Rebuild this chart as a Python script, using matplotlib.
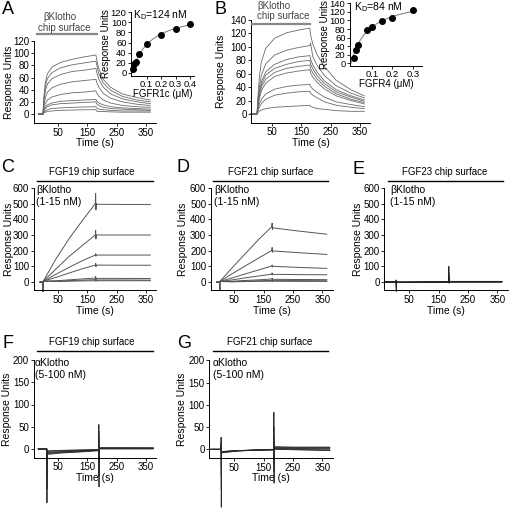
import numpy as np
import matplotlib
matplotlib.use("Agg")
import matplotlib.pyplot as plt
import matplotlib.transforms as mtrans
from matplotlib.lines import Line2D

plt.rcParams["font.family"] = ["Liberation Sans", "DejaVu Sans"]
plt.rcParams["mathtext.default"] = "regular"
plt.rcParams["font.size"] = 7
plt.rcParams["axes.linewidth"] = 0.7

W, H = 512, 513

# ---------------- data ----------------
# A: FGFR1c over beta-Klotho surface
T_A = [-15, 0, 3, 8, 15, 30, 60, 100, 140, 180, 182, 190, 205, 230, 270, 320, 365]
RU_A = [
    [0, 0, 28, 52, 66, 77, 85, 90, 94, 97, 91, 74, 57, 44, 33, 27, 23],
    [0, 0, 24, 45, 58, 68, 76, 81, 84, 87, 82, 66, 51, 39, 29, 23, 20],
    [0, 0, 20, 38, 49, 58, 65, 70, 72, 75, 70, 57, 44, 33, 25, 20, 17],
    [0, 0, 14, 27, 36, 43, 49, 53, 55, 57, 53, 44, 34, 26, 20, 16, 14],
    [0, 0, 9, 17, 23, 28, 32, 35, 36, 38, 35, 29, 23, 18, 14, 12, 11],
    [0, 0, 6, 11, 15, 18, 21, 22, 23, 24, 22, 18, 15, 12, 10, 9, 8],
    [0, 0, 5, 9, 12, 15, 17, 18, 19, 20, 17, 14, 11, 9, 8, 7, 6],
    [0, 0, 3, 5, 7, 9, 10, 11, 11.5, 12, 10, 8, 7, 6, 5, 5, 5],
    [0, 0, 2, 3, 4, 5, 6, 6.5, 7, 7, 5, 4, 4, 3.5, 3, 3, 3],
]
CONC_A = [0.00625, 0.0125, 0.025, 0.05, 0.1, 0.2, 0.3, 0.4]
EQ_A = [7, 18, 22, 37, 57, 74, 86, 96]
KD_A = 0.124

# B: FGFR4 over beta-Klotho surface
T_B = [-20, 0, 3, 8, 15, 30, 60, 100, 140, 180, 182, 190, 205, 230, 270, 320, 365]
RU_B = [
    [0, 0, 25, 55, 78, 98, 113, 121, 125, 128, 118, 104, 88, 70, 50, 36, 27],
    [0, 0, 18, 40, 58, 75, 88, 95, 99, 102, 106, 85, 72, 57, 42, 31, 24],
    [0, 0, 15, 33, 48, 63, 74, 81, 85, 87, 82, 73, 62, 49, 36, 27, 21],
    [0, 0, 13, 30, 44, 58, 68, 74, 78, 80, 75, 67, 57, 45, 33, 25, 19],
    [0, 0, 12, 27, 40, 52, 62, 68, 71, 73, 68, 61, 52, 41, 30, 22, 17],
    [0, 0, 10, 23, 35, 46, 56, 61, 64, 66, 61, 55, 47, 37, 27, 20, 15],
    [0, 0, 6, 15, 22, 30, 37, 41, 43, 44, 41, 37, 32, 25, 18, 14, 11],
    [0, 0, 4, 10, 16, 22, 28, 31, 33, 34, 31, 28, 24, 18, 13, 10, 8],
    [0, 0, 2, 4, 6, 8, 10, 11, 12, 13, 11, 10, 8, 7, 5, 4, 4],
]
CONC_B = [0.0125, 0.025, 0.035, 0.075, 0.1, 0.15, 0.2, 0.3]
EQ_B = [12, 32, 43, 78, 84, 98, 106, 125]
KD_B = 0.084

# C/D: beta-Klotho over FGF19 / FGF21 surfaces
T_CD = [-10, 0, 0.5, 1, 45, 90, 135, 178, 179, 180, 181, 183, 270, 365]
RU_C = [
    [0, 0, -60, 5, 150, 280, 395, 500, 565, 460, 500, 496, 495, 495],
    [0, 0, -60, 5, 85, 165, 235, 300, 330, 275, 300, 300, 300, 300],
    [0, 0, -60, 5, 50, 95, 137, 172, 180, 165, 172, 172, 172, 172],
    [0, 0, -60, 5, 30, 58, 85, 108, 120, 98, 108, 108, 107, 107],
    [0, 0, -60, 5, 8, 14, 20, 25, 35, 20, 24, 23, 23, 22],
    [0, 0, -60, 5, 5, 9, 12, 15, 22, 10, 14, 13, 13, 12],
    [0, 0, -60, 5, 3, 5, 7, 8, 12, 5, 8, 8, 8, 8],
]
RU_D = [
    [0, 0, -50, 3, 95, 185, 275, 353, 375, 335, 350, 345, 325, 305],
    [0, 0, -50, 3, 55, 105, 155, 201, 220, 190, 200, 198, 187, 176],
    [0, 0, -50, 3, 27, 53, 78, 102, 108, 96, 101, 100, 93, 87],
    [0, 0, -50, 3, 14, 27, 39, 50, 58, 45, 50, 49, 47, 46],
    [0, 0, -50, 3, 5, 10, 14, 19, 24, 16, 18, 17, 16, 15],
    [0, 0, -50, 3, 3, 5, 8, 10, 13, 8, 10, 9, 9, 8],
    [0, 0, -50, 3, 1, 3, 4, 5, 7, 3, 5, 5, 4, 4],
]

# E: beta-Klotho over FGF23 surface
T_E = [-30, 5, 5.5, 6, 7, 30, 100, 184, 185, 185.5, 186, 250, 365]
RU_E = [
    [0, 0, 13, -60, -3, -3, -2, -1, 100, -8, 4, 4, 4],
    [0, 0, 8, -40, -2, -2, -1, 0, 60, -4, 3, 3, 3],
    [0, 0, 5, -30, -2, -2, -1, 0, 40, -2, 2, 2, 2],
    [0, 0, 4, -20, -1, -1, -1, 0, 30, -2, 1, 1, 1],
    [0, 0, 3, -15, -1, -1, 0, 0, 20, -1, 1, 1, 1],
    [0, 0, 2, -10, -1, -1, 0, 0, 12, 0, 0, 0, 0],
    [0, 0, 1, -5, 0, 0, 0, 0, 8, 0, 0, 0, 0],
]

# F/G: alpha-Klotho over FGF19 / FGF21 surfaces
T_F = [-16, 13, 13.5, 14, 20, 60, 120, 189, 190, 190.5, 191, 250, 375]
RU_F = [
    [0, 0, -121, -10, -12, -9, -7, -4, 55, -85, 3, 3, 3],
    [0, 0, -90, -8, -10, -8, -6, -3, 40, -60, 2, 2, 2],
    [0, 0, -60, -7, -8, -7, -5, -3, 30, -40, 2, 2, 1],
    [0, 0, -40, -6, -7, -6, -4, -2, 20, -25, 1, 1, 1],
    [0, 0, -20, -5, -5, -4, -3, -2, 10, -10, 1, 1, 1],
    [0, 0, -10, -4, -4, -3, -2, -1, 5, -5, 0, 0, 0],
]
T_G = [-30, 5, 5.5, 6, 7, 60, 120, 184, 185, 185.5, 186, 250, 375]
RU_G = [
    [0, 0, 27, -130, -8, -4, -2, -1, 83, -76, 6, 5, 5],
    [0, 0, 15, -90, -7, -4, -2, -1, 50, -50, 4, 4, 4],
    [0, 0, 10, -60, -6, -3, -2, -1, 30, -30, 3, 2, 2],
    [0, 0, 5, -40, -6, -3, -2, -1, 20, -20, 2, 1, 0],
    [0, 0, 3, -20, -5, -3, -2, -1, 10, -10, 1, 0, -2],
    [0, 0, 2, -10, -5, -3, -1, 0, 5, -5, 0, -1, -3],
]

TIME_TICKS = [50, 150, 250, 350]
SX = 0.294  # px per second

fig = plt.figure(figsize=(W / 100, H / 100), dpi=100)


def add_axes(x0, sx, xlim, y0, sy, ylim, fs=7):
    l = x0 + xlim[0] * sx
    r = x0 + xlim[1] * sx
    b = y0 - ylim[0] * sy
    t = y0 - ylim[1] * sy
    ax = fig.add_axes([l / W, 1 - b / H, (r - l) / W, (b - t) / H])
    ax.set_xlim(xlim)
    ax.set_ylim(ylim)
    ax.patch.set_alpha(0)
    for s in ("top", "right"):
        ax.spines[s].set_visible(False)
    ax.tick_params(length=2, width=0.6, pad=1.2, labelsize=fs)
    return ax


def place_labels(ax, xlab, ylab, xlab_y, ylab_x, ymid, fs=7.5):
    ax.set_xlabel(xlab, fontsize=fs, va="center")
    ax.set_ylabel(ylab, fontsize=fs, va="center")
    ax.xaxis.set_label_coords(0.5, 1 - xlab_y / H,
                              transform=mtrans.blended_transform_factory(ax.transAxes, fig.transFigure))
    ax.yaxis.set_label_coords(ylab_x / W, ymid,
                              transform=mtrans.blended_transform_factory(fig.transFigure, ax.transData))


def sensorgram(x0, xlim, y0, sy, ylim, yticks, t, curves, color, lw,
               xlab_y, ylab_x, spine_y=None):
    ax = add_axes(x0, SX, xlim, y0, sy, ylim)
    for c in curves:
        ax.plot(t, c, color=color, lw=lw, clip_on=False)
    ax.set_xticks(TIME_TICKS)
    ax.set_yticks(yticks)
    lo = ylim[0] if spine_y is None else spine_y
    if spine_y is not None:
        ax.spines["bottom"].set_position(("data", spine_y))
    ax.spines["left"].set_bounds(lo, yticks[-1])
    place_labels(ax, "Time (s)", "Response Units", xlab_y, ylab_x, (lo + yticks[-1]) / 2)
    return ax


def inset(x0, sx, xlim, y0, sy, ylim, xticks, yticks, conc, eq, kd, xlab, xlab_y, ylab_x):
    ax = add_axes(x0, sx, xlim, y0, sy, ylim, fs=6.8)
    conc = np.asarray(conc)
    eq = np.asarray(eq)
    f = conc / (kd + conc)
    rmax = np.sum(eq * f) / np.sum(f * f)
    cc = np.linspace(0, conc.max(), 100)
    ax.plot(cc, rmax * cc / (kd + cc), color="#777777", lw=0.7, clip_on=False)
    ax.plot(conc, eq, "o", color="black", ms=4, clip_on=False)
    ax.set_xticks(xticks)
    ax.set_xticklabels([f"{v:g}" for v in xticks])
    ax.set_yticks(yticks)
    ax.spines["left"].set_bounds(ylim[0], yticks[-1])
    place_labels(ax, xlab, "Response Units", xlab_y, ylab_x, (ylim[0] + yticks[-1]) / 2, fs=7)
    return ax


def ftext(x, y, s, **kw):
    kw.setdefault("fontsize", 7.5)
    kw.setdefault("va", "center")
    fig.text(x / W, 1 - y / H, s, **kw)


def bar(x1, x2, y, color="black", lw=1.0):
    fig.add_artist(Line2D([x1 / W, x2 / W], [1 - y / H, 1 - y / H], color=color, lw=lw,
                          transform=fig.transFigure))


# ---------------- panels ----------------
sensorgram(43, (-32, 385), 114, 0.608, (-15, 122), list(range(0, 121, 20)), T_A, RU_A,
           "#6a6a6a", 0.6, 143, 9.5)
inset(132, 145, (-0.007, 0.43), 73, 0.508, (-6, 122), [0.1, 0.2, 0.3, 0.4],
      list(range(0, 121, 20)), CONC_A, EQ_A, KD_A, "FGFR1c (\u03bcM)", 94, 106)

sensorgram(257, (-20, 385), 114, 0.671, (-13, 142), list(range(0, 141, 20)), T_B, RU_B,
           "#6a6a6a", 0.6, 143, 220.5)
inset(351, 207, (-0.005, 0.345), 63.3, 0.4286, (-6, 142), [0.1, 0.2, 0.3],
      list(range(0, 141, 20)), CONC_B, EQ_B, KD_B, "FGFR4 (\u03bcM)", 84, 325)

cd_ticks = list(range(0, 601, 100))
sensorgram(43, (-32, 385), 282, 0.1567, (-52, 605), cd_ticks, T_CD, RU_C,
           "#555555", 0.7, 311, 9)
sensorgram(219.5, (-30, 385), 282, 0.1567, (-52, 605), cd_ticks, T_CD, RU_D,
           "#555555", 0.7, 311, 183)
sensorgram(394.5, (-35, 385), 282, 0.1567, (-52, 605), cd_ticks, T_E, RU_E,
           "#222222", 0.6, 311, 358)

fg_ticks = list(range(0, 201, 50))
sensorgram(43, (-32, 385), 449, 0.445, (-130, 204), fg_ticks, T_F, RU_F,
           "#2a2a2a", 0.6, 478, 7, spine_y=-20)
sensorgram(219.5, (-35, 385), 449.3, 0.445, (-130, 204), fg_ticks, T_G, RU_G,
           "#2a2a2a", 0.6, 478, 181.7, spine_y=-20)

# ---------------- annotations ----------------
for letter, x, y in [("A", 2, 9), ("B", 215, 9), ("C", 1, 168), ("D", 177, 168),
                     ("E", 352, 170), ("F", 3, 344), ("G", 177, 344)]:
    ftext(x, y, letter, fontsize=13)

ftext(43, 17, "\u03b2Klotho", fontsize=7, color="#444444")
ftext(38, 28, "chip surface", fontsize=7, color="#444444")
bar(37, 97, 33.5, color="#888888", lw=1.6)
ftext(257, 6, "\u03b2Klotho", fontsize=7, color="#444444")
ftext(257, 16, "chip surface", fontsize=7, color="#444444")
bar(252, 310, 23.5, color="#888888", lw=1.6)

ftext(133, 15, "K$_D$=124 nM", fontsize=7.5)
ftext(354, 7, "K$_D$=84 nM", fontsize=7.5)

ftext(92, 172, "FGF19 chip surface", fontsize=7, ha="center")
bar(37, 153, 180.5)
ftext(271, 172, "FGF21 chip surface", fontsize=7, ha="center")
bar(213, 328, 180.5)
ftext(445, 172, "FGF23 chip surface", fontsize=7, ha="center")
bar(388, 503, 180.5)
ftext(92, 342, "FGF19 chip surface", fontsize=7, ha="center")
bar(37, 153, 351)
ftext(270, 342, "FGF21 chip surface", fontsize=7, ha="center")
bar(213, 328, 351)

for x in (36, 214, 390):
    ftext(x, 190, "\u03b2Klotho", fontsize=7.5)
    ftext(x, 202, "(1-15 nM)", fontsize=7.5)
for x in (35, 213):
    ftext(x, 363, "\u03b1Klotho", fontsize=7.5)
    ftext(x, 375, "(5-100 nM)", fontsize=7.5)

fig.savefig("out.png", dpi=100, facecolor="white")
